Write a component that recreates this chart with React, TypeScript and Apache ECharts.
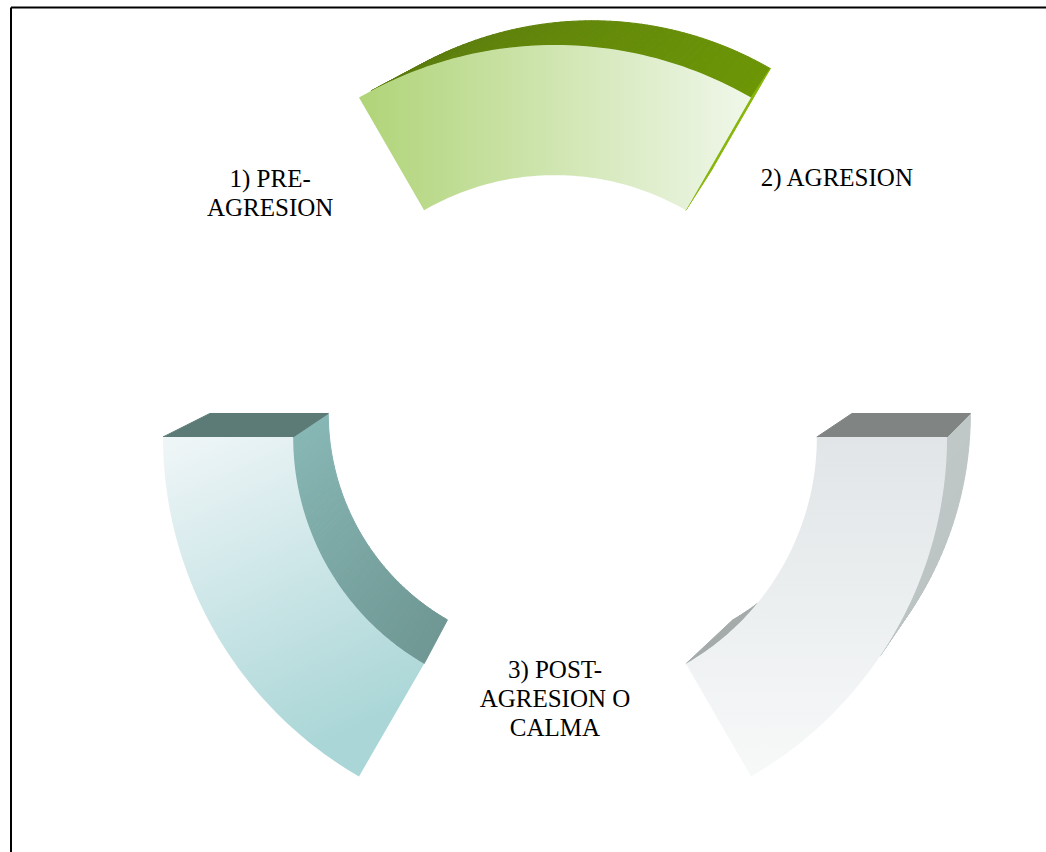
import React, { useEffect, useRef } from 'react';
import * as echarts from 'echarts';

// ---- data ----
const stageLabels = ['1) PRE-\nAGRESION', '2) AGRESION', '3) POST-\nAGRESION O\nCALMA'];
const labelAngles = [139.4, 42.6, 270];
const labelRadii = [0.957, 0.977, 0.668];
const arcStartAngles = [60, 180, 300];
const arcEndAngles = [120, 240, 360];
const ringOuter = 1;
const ringInner = 0.668;

// ---- styles ----
const segmentStyles = [
  {
    front: { dir: [0, 0, 1, 0], from: '#b0d478', to: '#f0f7ea' },
    outer: ['#6c9606', '#5a7a0e'],
    inner: ['#5a7a0e', '#5a7a0e'],
    capStart: '#86b60a',
    capEnd: '#5a7a0e',
    vp: [410, -352],
    depth: 0.91,
  },
  {
    front: { dir: [0, 0, 0.35, 1], from: '#f0f6f8', to: '#aad6d7' },
    outer: ['#6f9793', '#6f9793'],
    inner: ['#87b7b5', '#6f9793'],
    capStart: '#5c7b77',
    capEnd: '#6f9793',
    vp: [390, -431],
    depth: 0.91,
  },
  {
    front: { dir: [0, 0, 0, 1], from: '#e1e5e7', to: '#f7f9f9' },
    outer: ['#b8c0bf', '#bfc7c7'],
    inner: ['#a5abaa', '#a5abaa'],
    capStart: '#a5abaa',
    capEnd: '#808483',
    vp: [390, -431],
    depth: 0.91,
  },
];

function hexToRgb(h: string) {
  const v = h.replace('#', '');
  return [parseInt(v.slice(0, 2), 16), parseInt(v.slice(2, 4), 16), parseInt(v.slice(4, 6), 16)];
}
function mix(a: string, b: string, t: number) {
  const A = hexToRgb(a), B = hexToRgb(b);
  const c = A.map((x, i) => Math.round(x + (B[i] - x) * t));
  return `rgb(${c[0]},${c[1]},${c[2]})`;
}

function renderSegment(params: any, api: any) {
  const i = params.dataIndex;
  const st = segmentStyles[i];
  const a0 = arcStartAngles[i];
  const a1 = arcEndAngles[i];
  const N = 60;
  const outer: number[][] = [];
  const inner: number[][] = [];
  for (let k = 0; k <= N; k++) {
    const a = a0 + ((a1 - a0) * k) / N;
    outer.push(api.coord([ringOuter, a]));
    inner.push(api.coord([ringInner, a]));
  }
  // edges with types
  type Edge = { p: number[]; q: number[]; color: string };
  const edges: Edge[] = [];
  for (let k = 0; k < N; k++) {
    edges.push({ p: outer[k], q: outer[k + 1], color: mix(st.outer[0], st.outer[1], (k + 0.5) / N) });
  }
  edges.push({ p: outer[N], q: inner[N], color: st.capEnd });
  for (let k = N; k > 0; k--) {
    edges.push({ p: inner[k], q: inner[k - 1], color: mix(st.inner[0], st.inner[1], (k - 0.5) / N) });
  }
  edges.push({ p: inner[0], q: outer[0], color: st.capStart });

  const front = outer.concat(inner.slice().reverse());
  let minX = Infinity, maxX = -Infinity, minY = Infinity, maxY = -Infinity;
  let S = 0;
  for (let k = 0; k < front.length; k++) {
    const p = front[k], q = front[(k + 1) % front.length];
    S += p[0] * q[1] - q[0] * p[1];
    minX = Math.min(minX, p[0]); maxX = Math.max(maxX, p[0]);
    minY = Math.min(minY, p[1]); maxY = Math.max(maxY, p[1]);
  }
  const vp = [(minX + maxX) / 2 + st.vp[0], (minY + maxY) / 2 + st.vp[1]];
  const kd = st.depth;
  const back = (p: number[]) => [vp[0] + kd * (p[0] - vp[0]), vp[1] + kd * (p[1] - vp[1])];

  const children: any[] = [];
  edges.forEach((e) => {
    const dx = e.q[0] - e.p[0], dy = e.q[1] - e.p[1];
    const n = S > 0 ? [dy, -dx] : [-dy, dx];
    const m = [(e.p[0] + e.q[0]) / 2, (e.p[1] + e.q[1]) / 2];
    const bm = back(m);
    const dot = n[0] * (bm[0] - m[0]) + n[1] * (bm[1] - m[1]);
    if (dot > 0) {
      children.push({
        type: 'polygon',
        shape: { points: [e.p, e.q, back(e.q), back(e.p)] },
        style: { fill: e.color, stroke: e.color, lineWidth: 1 },
      });
    }
  });
  const d = st.front.dir;
  children.push({
    type: 'polygon',
    shape: { points: front },
    style: {
      fill: new echarts.graphic.LinearGradient(d[0], d[1], d[2], d[3], [
        { offset: 0, color: st.front.from },
        { offset: 1, color: st.front.to },
      ]),
    },
  });
  return { type: 'group', children };
}

function renderLabel(params: any, api: any) {
  const p = api.coord([api.value(0), api.value(1)]);
  return {
    type: 'text',
    x: p[0],
    y: p[1],
    style: {
      text: stageLabels[params.dataIndex],
      fill: '#000000',
      fontFamily: '"Liberation Serif", "Times New Roman", serif',
      fontSize: 25,
      lineHeight: 29,
      align: 'center',
      verticalAlign: 'middle',
    },
  };
}

export default function App() {
  const ref = useRef<HTMLDivElement>(null);
  useEffect(() => {
    if (!ref.current) return;
    const chart = echarts.init(ref.current, null, { renderer: 'svg' });
    chart.setOption({
      animation: false,
      backgroundColor: '#ffffff',
      polar: { center: [555, 437], radius: 392 },
      angleAxis: { type: 'value', min: 0, max: 360, startAngle: 0, clockwise: false, show: false },
      radiusAxis: { type: 'value', min: 0, max: 1, show: false },
      graphic: [
        { type: 'line', shape: { x1: 11, y1: 7.5, x2: 1046, y2: 7.5 }, style: { stroke: '#000000', lineWidth: 2 } },
        { type: 'line', shape: { x1: 11, y1: 7.5, x2: 11, y2: 852 }, style: { stroke: '#000000', lineWidth: 2 } },
      ],
      series: [
        {
          type: 'custom',
          coordinateSystem: 'polar',
          silent: true,
          data: arcStartAngles.map((a, i) => [ringOuter, (a + arcEndAngles[i]) / 2]),
          renderItem: renderSegment,
        },
        {
          type: 'custom',
          coordinateSystem: 'polar',
          silent: true,
          data: labelRadii.map((r, i) => [r, labelAngles[i]]),
          renderItem: renderLabel,
        },
      ],
    });
    return () => chart.dispose();
  }, []);
  return (
    <div
      ref={ref}
      style={{ position: 'absolute', left: 0, top: 0, width: 1046, height: 852, background: '#ffffff' }}
    />
  );
}
